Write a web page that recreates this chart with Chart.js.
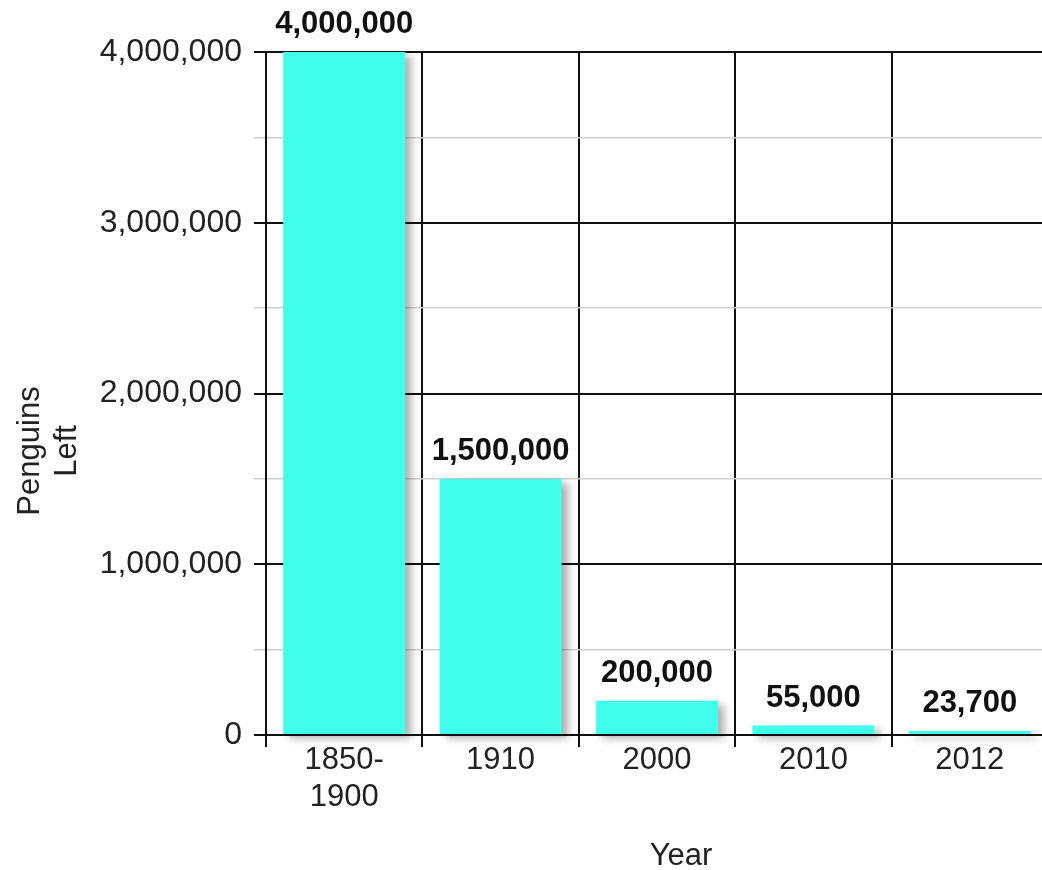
<!DOCTYPE html>
<html>
<head>
<meta charset="utf-8">
<script src="https://cdn.jsdelivr.net/npm/chart.js@4/dist/chart.umd.min.js"></script>
<style>
  html, body { margin: 0; padding: 0; background: #fff; overflow: hidden; }
</style>
</head>
<body>
<canvas id="myChart" width="1050" height="870"></canvas>
<script>
const years = [['1850-', '1900'], '1910', '2000', '2010', '2012']
const penguins = [4000000, 1500000, 200000, 55000, 23700]
const yMax = 4000000
const yStep = 500000
const xTitle = 'Year'
const yTitle = ['Penguins', 'Left']

const FONT = '"Liberation Sans", Arial, sans-serif'

// shadow under the bars + bold value labels on top
const barExtras = {
  id: 'barExtras',
  beforeDatasetsDraw(chart) {
    const ctx = chart.ctx
    ctx.save()
    ctx.shadowColor = 'rgba(0, 0, 0, 0.32)'
    ctx.shadowBlur = 8
    ctx.shadowOffsetX = 6
    ctx.shadowOffsetY = 4
  },
  afterDatasetsDraw(chart) {
    const ctx = chart.ctx
    ctx.restore()
    ctx.save()
    ctx.font = 'bold 31px ' + FONT
    ctx.fillStyle = '#111'
    ctx.textAlign = 'center'
    ctx.textBaseline = 'alphabetic'
    const meta = chart.getDatasetMeta(0)
    meta.data.forEach((bar, i) => {
      ctx.fillText(penguins[i].toLocaleString('en-US'), bar.x, bar.y - 19)
    })
    ctx.restore()
  },
  afterDraw(chart) {
    const ctx = chart.ctx
    ctx.save()
    ctx.font = '31px ' + FONT
    ctx.fillStyle = '#222'
    ctx.textAlign = 'center'
    ctx.textBaseline = 'alphabetic'
    ctx.fillText(xTitle, 681, 865)
    ctx.translate(0, 451)
    ctx.rotate(-Math.PI / 2)
    ctx.fillText(yTitle[0], 0, 39)
    ctx.fillText(yTitle[1], 0, 76)
    ctx.restore()
  }
}

const data = {
  labels: years,
  datasets: [
    {
      label: 'Penguins Left',
      data: penguins,
      backgroundColor: 'rgb(66, 255, 236)',
      borderWidth: 0,
      barPercentage: 0.78,
      categoryPercentage: 1,
      clip: false,
    },
  ],
}

const config = {
  type: 'bar',
  data: data,
  plugins: [barExtras],
  options: {
    responsive: false,
    animation: false,
    layout: {
      padding: { top: 52, right: 2, left: 0, bottom: 0 },
    },
    scales: {
      x: {
        afterFit(scale) { scale.height = 135 },
        grid: {
          offset: true,
          color: '#111',
          lineWidth: 2,
          tickLength: 12,
        },
        border: { color: '#111', width: 2 },
        ticks: {
          color: '#222',
          padding: -5,
          font: { family: FONT, size: 31, lineHeight: 1.2 },
          maxRotation: 0,
        },
      },
      y: {
        min: 0,
        max: yMax,
        afterFit(scale) { scale.width = 266 },
        grid: {
          color: (c) => (c.tick && c.tick.value % 1000000 === 0 ? '#111' : '#cfcfcf'),
          lineWidth: (c) => (c.tick && c.tick.value % 1000000 === 0 ? 2 : 1.5),
          tickLength: 12,
        },
        border: { color: '#111', width: 2 },
        ticks: {
          stepSize: yStep,
          color: '#222',
          padding: 12,
          font: { family: FONT, size: 32 },
          callback: (v) => (v % 1000000 === 0 ? v.toLocaleString('en-US') : ''),
        },
      },
    },
    plugins: {
      legend: { display: false },
      tooltip: { enabled: false },
    },
  },
}

const chart = new Chart(document.getElementById('myChart'), config)
</script>
</body>
</html>
